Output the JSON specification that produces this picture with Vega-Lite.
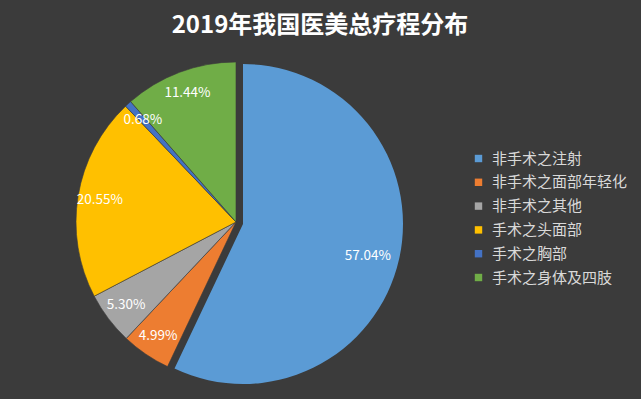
{
  "$schema": "https://vega.github.io/schema/vega-lite/v6.json",
  "width": 320,
  "height": 320,
  "autosize": {"type": "none"},
  "padding": {"left": 76, "top": 62, "right": 245, "bottom": 17},
  "background": "#3b3b3b",
  "title": {
    "text": "2019年我国医美总疗程分布",
    "color": "#ffffff",
    "fontSize": 24,
    "font": "Noto Sans CJK SC",
    "fontWeight": "bold",
    "anchor": "middle",
    "frame": "group",
    "dx": 84,
    "offset": 23
  },
  "config": {"view": {"stroke": null}},
  "data": {
    "values": [
      {"cat": "非手术之注射", "value": 57.04, "label": "57.04%", "ord": 1},
      {"cat": "非手术之面部年轻化", "value": 4.99, "label": "4.99%", "ord": 2},
      {"cat": "非手术之其他", "value": 5.30, "label": "5.30%", "ord": 3},
      {"cat": "手术之头面部", "value": 20.55, "label": "20.55%", "ord": 4},
      {"cat": "手术之胸部", "value": 0.68, "label": "0.68%", "ord": 5},
      {"cat": "手术之身体及四肢", "value": 11.44, "label": "11.44%", "ord": 6}
    ]
  },
  "encoding": {
    "theta": {"field": "value", "type": "quantitative", "stack": true},
    "order": {"field": "ord", "type": "quantitative"}
  },
  "layer": [
    {
      "mark": {"type": "arc", "outerRadius": 160, "stroke": "#3b3b3b", "strokeWidth": 0.6},
      "encoding": {
        "color": {
          "field": "cat",
          "type": "nominal",
          "scale": {
            "domain": ["非手术之注射", "非手术之面部年轻化", "非手术之其他", "手术之头面部", "手术之胸部", "手术之身体及四肢"],
            "range": ["#5b9bd5", "#ed7d31", "#a5a5a5", "#ffc000", "#4472c4", "#70ad47"]
          },
          "legend": {
            "title": null,
            "orient": "none",
            "legendX": 395,
            "legendY": 89,
            "symbolType": "square",
            "symbolSize": 55,
            "symbolStrokeWidth": 0,
            "labelColor": "#d9d9d9",
            "labelFontSize": 15,
            "labelFont": "Noto Sans CJK SC",
            "labelLimit": 300,
            "rowPadding": 7.8,
            "labelOffset": 6
          }
        },
        "opacity": {"condition": {"test": "datum.ord == 1", "value": 0}, "value": 1}
      }
    },
    {
      "mark": {"type": "arc", "outerRadius": 160, "xOffset": 7, "yOffset": 2},
      "encoding": {
        "color": {"field": "cat", "type": "nominal"},
        "opacity": {"condition": {"test": "datum.ord == 1", "value": 1}, "value": 0}
      }
    },
    {
      "mark": {"type": "text", "radius": 138, "color": "#ffffff", "fontSize": 13.5, "font": "Noto Sans CJK SC"},
      "encoding": {
        "text": {"field": "label"},
        "opacity": {"condition": {"test": "datum.ord == 1", "value": 0}, "value": 1}
      }
    },
    {
      "mark": {"type": "text", "radius": 128, "xOffset": 7, "yOffset": 6, "color": "#ffffff", "fontSize": 13.5, "font": "Noto Sans CJK SC"},
      "encoding": {
        "text": {"field": "label"},
        "opacity": {"condition": {"test": "datum.ord == 1", "value": 1}, "value": 0}
      }
    }
  ]
}
